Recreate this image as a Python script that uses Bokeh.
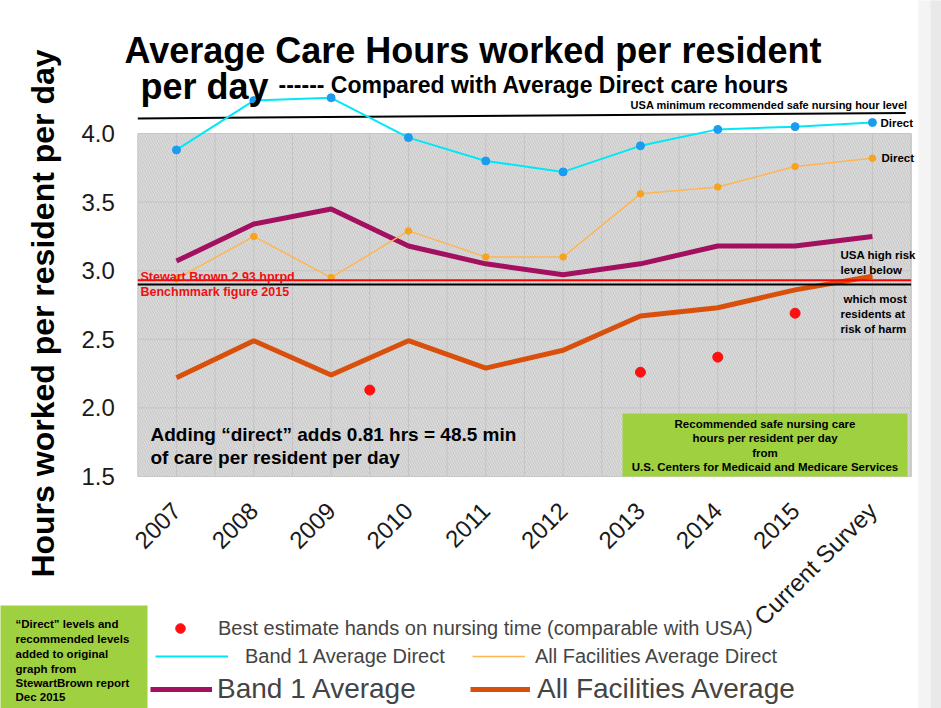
from math import pi
import numpy as np
from bokeh.plotting import figure
from bokeh.models import (Range1d, FixedTicker, NumeralTickFormatter, Label, Legend,
                          LegendItem)
from bokeh.embed import file_html
from bokeh.resources import INLINE

# ---------------- data ----------------
CATEGORIES = ["2007", "2008", "2009", "2010", "2011", "2012", "2013", "2014", "2015",
              "Current Survey"]
BAND1_DIRECT = [3.88, 4.24, 4.26, 3.97, 3.80, 3.72, 3.91, 4.03, 4.05, 4.08]
ALL_DIRECT = [2.94, 3.25, 2.95, 3.29, 3.10, 3.10, 3.56, 3.61, 3.76, 3.82]
BAND1_AVG = [3.07, 3.34, 3.45, 3.18, 3.05, 2.97, 3.05, 3.18, 3.18, 3.25]
ALL_AVG = [2.22, 2.49, 2.24, 2.49, 2.29, 2.42, 2.67, 2.73, 2.86, 2.96]
BEST_EST_X = [2.5, 6, 7, 8]
BEST_EST = [2.13, 2.26, 2.37, 2.69]
USA_MIN_X = [-0.5, 9.43]
USA_MIN = [4.11, 4.15]
STEWART_BROWN = 2.93
USA_HIGH_RISK = 2.90
Y_TICKS = [1.5, 2.0, 2.5, 3.0, 3.5, 4.0]

N = len(CATEGORIES)
X = list(range(N))
X_LO, X_HI = -0.5, N - 0.5
Y_LO, Y_HI = Y_TICKS[0], Y_TICKS[-1]

W, H = 941, 708
# page-pixel layout of the plotting band
PX_LEFT, PX_STEP = 137.3, 77.33      # x = -0.5 at 137.3 px, 77.33 px per category
PY_BOTTOM, PY_UNIT = 476.0, 137.2    # y = 1.5 at 476 px, 137.2 px per hour


def dx(px):
    return X_LO + (px - PX_LEFT) / PX_STEP


def dy(py):
    return Y_LO + (PY_BOTTOM - py) / PY_UNIT


REG = "Liberation Sans"

p = figure(width=W, height=H,
           x_range=Range1d(dx(0), dx(W)), y_range=Range1d(dy(H), dy(0)),
           output_backend="svg", toolbar_location=None,
           min_border=0, min_border_left=0, min_border_right=0,
           min_border_top=0, min_border_bottom=0,
           background_fill_color="white", border_fill_color="white",
           outline_line_color=None)
p.grid.visible = False

# axes placed at the edges of the hatched band
p.yaxis.fixed_location = X_LO
p.xaxis.fixed_location = Y_LO
p.yaxis.ticker = FixedTicker(ticks=Y_TICKS)
p.yaxis.formatter = NumeralTickFormatter(format="0.0")
p.xaxis.ticker = FixedTicker(ticks=X)
p.xaxis.major_label_overrides = {i: c for i, c in enumerate(CATEGORIES)}
p.xaxis.major_label_orientation = pi / 4
for ax in (p.xaxis, p.yaxis):
    ax.axis_line_color = None
    ax.major_tick_line_color = None
    ax.minor_tick_line_color = None
    ax.major_label_text_font = REG
    ax.major_label_text_font_size = "24px"
    ax.major_label_text_color = "#1a1a1a"
p.yaxis.major_label_standoff = 17
p.xaxis.major_label_standoff = 24

# slide edge shading on the right
p.quad(left=dx(918), right=dx(W + 5), bottom=dy(H + 5), top=dy(-5),
       fill_color="#f4f4f4", line_color=None)
p.quad(left=dx(930), right=dx(W + 5), bottom=dy(H + 5), top=dy(-5),
       fill_color="#e9e9e9", line_color=None)

# hatched band
p.quad(left=X_LO, right=X_HI, bottom=Y_LO, top=Y_HI,
       fill_color="#dedede", hatch_pattern="left_diagonal_line", hatch_color="#cbcbcb",
       hatch_weight=1.3, hatch_scale=5, line_color="#c6c6c6", line_width=1)
# grid lines inside the band
gx = np.arange(0, X_HI + 0.01, 0.5)
p.segment(x0=gx, y0=Y_LO, x1=gx, y1=Y_HI, line_color="#c4c4c4", line_width=1)
gy = np.array(Y_TICKS[1:-1])
p.segment(x0=X_LO, y0=gy, x1=X_HI, y1=gy, line_color="#c4c4c4", line_width=1)

# USA minimum line
p.segment(x0=USA_MIN_X[0], y0=USA_MIN[0], x1=USA_MIN_X[1], y1=USA_MIN[1],
          line_color="black", line_width=2)

# data series
r_all = p.line(X, ALL_AVG, line_color="#d9500c", line_width=5)
r_band1 = p.line(X, BAND1_AVG, line_color="#a3105f", line_width=5)
r_alld = p.line(X, ALL_DIRECT, line_color="#ffb552", line_width=1.5)
p.scatter(X, ALL_DIRECT, size=6.5, fill_color="#f7a31e", line_color="#f7a31e")
r_band1d = p.line(X, BAND1_DIRECT, line_color="#00e8f8", line_width=2)
p.scatter(X, BAND1_DIRECT, size=8, fill_color="#1a9cf0", line_color="#1a9cf0")
r_best = p.scatter(BEST_EST_X, BEST_EST, size=10, fill_color="#ff1010",
                   line_color="#ff1010")

# reference levels
p.segment(x0=X_LO, y0=USA_HIGH_RISK, x1=X_HI, y1=USA_HIGH_RISK,
          line_color="black", line_width=2)
p.segment(x0=X_LO, y0=STEWART_BROWN, x1=X_HI, y1=STEWART_BROWN,
          line_color="#ff0000", line_width=2)

# green note boxes
p.quad(left=dx(622), right=dx(907), bottom=dy(476), top=dy(413),
       fill_color="#9fd03f", line_color=None)
p.quad(left=dx(-5), right=dx(147), bottom=dy(H + 5), top=dy(605),
       fill_color="#9fd03f", line_color=None)


def lab(text, px, py, size, style="bold", color="black", align="left",
        baseline="middle", angle=0):
    p.add_layout(Label(x=px, y=H - py, x_units="screen", y_units="screen", text=text,
                       text_font=REG, text_font_size=size, text_font_style=style,
                       text_color=color, text_align=align, text_baseline=baseline,
                       angle=angle))


# titles
lab("Average Care Hours worked per resident", 124, 50, "36px", baseline="alphabetic")
lab("per day", 140, 86, "36px", baseline="alphabetic")
lab("------ Compared with Average  Direct care hours", 278, 84, "23px",
    baseline="alphabetic")
# y axis title
lab("Hours worked per resident per day", 42, 313, "32px", align="center",
    angle=pi / 2)

# annotations
lab("USA minimum recommended safe nursing hour level", 907, 104, "11px", align="right")
lab("Direct", 880, 122, "11.5px")
lab("Direct", 881, 157, "11.5px")
lab("USA high risk", 840, 254, "11.5px")
lab("level below", 840, 269, "11.5px")
lab("which most", 843, 298, "11.5px")
lab("residents at", 840, 313, "11.5px")
lab("risk of harm", 840, 328, "11.5px")
lab("Stewart Brown 2.93 hprpd", 140, 276, "12.5px", color="#ee1111")
lab("Benchmmark figure 2015", 140, 291, "12.5px", color="#ee1111")
lab("Adding \u201cdirect\u201d adds 0.81 hrs = 48.5 min", 150, 434, "19px")
lab("of care per resident per day", 150, 457, "19px")
for t, yy in [("Recommended safe nursing care", 423),
              ("hours per resident per day", 437),
              ("from", 452),
              ("U.S. Centers for Medicaid and Medicare Services", 466)]:
    lab(t, 764.5, yy, "11.5px", align="center")
for t, yy in [("\u201cDirect\u201d levels and", 623), ("recommended levels", 638),
              ("added to original", 653), ("graph from", 668),
              ("StewartBrown report", 682), ("Dec 2015", 696)]:
    lab(t, 15, yy, "11.5px")


# legends (one per entry)
def add_legend(label, renderer, px, py_center, h, gw, standoff, fs):
    top = py_center - h / 2
    lg = Legend(items=[LegendItem(label=label, renderers=[renderer])],
                location=(px, H - top - h), orientation="horizontal",
                glyph_width=gw, glyph_height=h, label_height=h,
                label_standoff=standoff, label_text_font=REG,
                label_text_font_size=fs, padding=0, margin=0, spacing=0,
                border_line_color=None, background_fill_alpha=0)
    p.add_layout(lg)


add_legend("Best estimate hands on nursing time (comparable with USA)", r_best,
           160, 628, 24, 40, 18, "20px")
add_legend("Band 1 Average Direct", r_band1d, 155, 656, 24, 73, 17, "20px")
add_legend("All Facilities Average Direct", r_alld, 472, 656, 24, 53, 10, "20px")
add_legend("Band 1 Average", r_band1, 150, 689, 32, 62, 5, "28px")
add_legend("All Facilities Average", r_all, 470, 689, 32, 60, 7, "28px")

open("out.html", "w").write(file_html(p, INLINE))
